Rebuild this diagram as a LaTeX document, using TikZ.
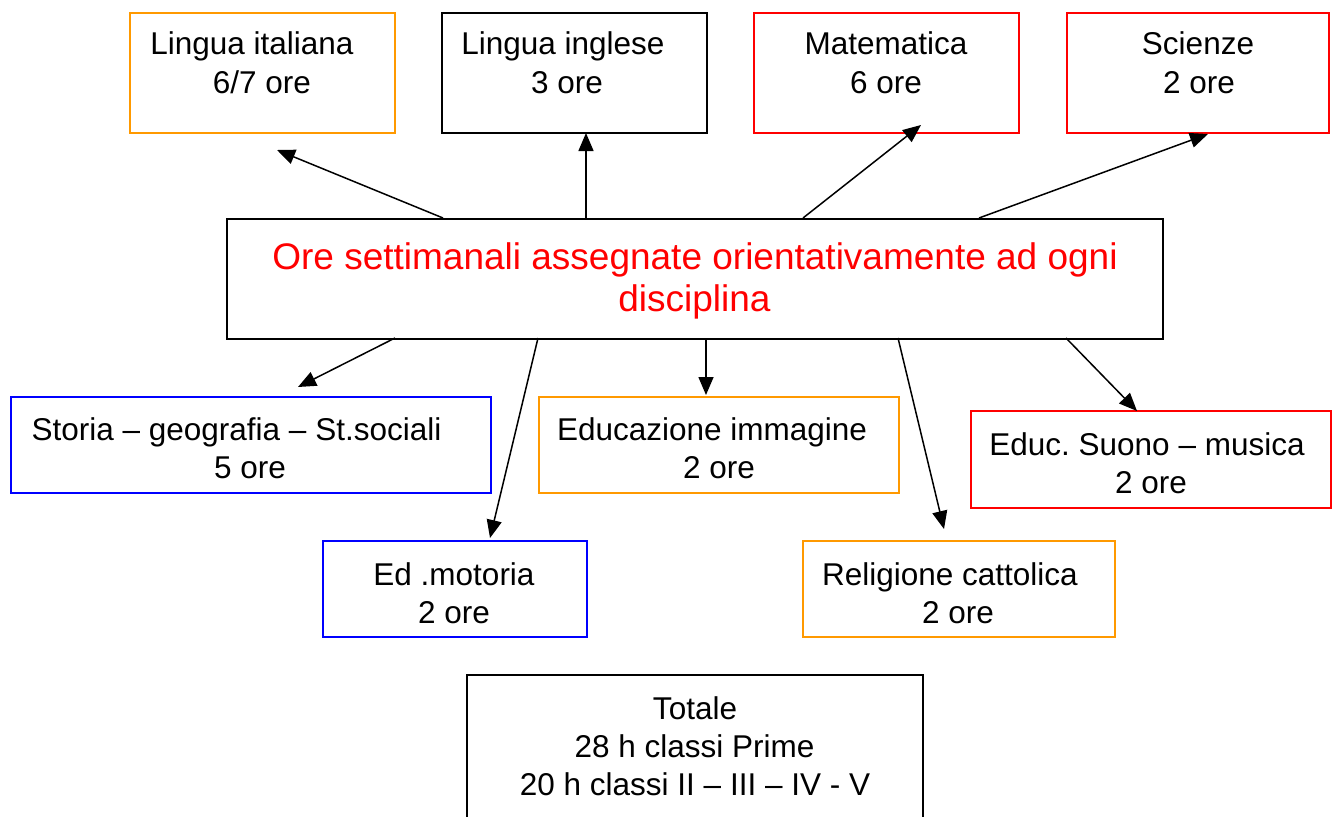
\documentclass[tikz,border=0pt]{standalone}
\usepackage{fontspec}
\setmainfont{Liberation Sans}
\usetikzlibrary{arrows.meta,calc}
\definecolor{wdorange}{RGB}{255,153,0}
\definecolor{wdred}{RGB}{255,0,0}
\definecolor{wdblue}{RGB}{0,0,255}
\frenchspacing
\begin{document}
\begin{tikzpicture}[x=1pt,y=-1pt,
  frame/.style={draw=#1, line width=1.6pt, anchor=north west, inner sep=0pt},
  lbl/.style={anchor=base, inner sep=0pt, font=\fontsize{31.5}{38}\selectfont},
  ttl/.style={anchor=base, inner sep=0pt, text=wdred, font=\fontsize{37}{43}\selectfont},
  conn/.style={line width=1.5pt, -{Triangle[length=18pt,width=15pt]}}]
\useasboundingbox (0,0) rectangle (1332,816);
\clip (0,0) rectangle (1332,816);
\fill[white] (0,0) rectangle (1332,816);
% boxes
\node[frame=wdorange, minimum width=265pt, minimum height=120pt] (li)  at (129,12) {};
\node[frame=black,    minimum width=265pt, minimum height=120pt] (lin) at (441,12) {};
\node[frame=wdred,    minimum width=265pt, minimum height=120pt] (mat) at (753,12) {};
\node[frame=wdred,    minimum width=262pt, minimum height=120pt] (sci) at (1066,12) {};
\node[frame=black,    minimum width=936pt, minimum height=120pt] (c)   at (226,218) {};
\node[frame=wdblue,   minimum width=480pt, minimum height=96pt]  (sto) at (10,396) {};
\node[frame=wdorange, minimum width=360pt, minimum height=96pt]  (edi) at (538,396) {};
\node[frame=wdred,    minimum width=360pt, minimum height=97pt]  (mus) at (970,410) {};
\node[frame=wdblue,   minimum width=264pt, minimum height=96pt]  (mot) at (322,540) {};
\node[frame=wdorange, minimum width=312pt, minimum height=96pt]  (rel) at (802,540) {};
\node[frame=black,    minimum width=456pt, minimum height=170pt] (tot) at (466,674) {};
% texts
\node[lbl] (li1) at (252,55) {Lingua italiana};
\node[lbl] (li2) at (262,93) {6/7 ore};
\node[lbl] (lin1) at (563,55) {Lingua inglese};
\node[lbl] (lin2) at (567,93) {3 ore};
\node[lbl] (mat1) at (886,55) {Matematica};
\node[lbl] (mat2) at (886,93) {6 ore};
\node[lbl] (sci1) at (1198,55) {Scienze};
\node[lbl] (sci2) at (1199,93) {2 ore};
\node[ttl] (c1) at (695,269) {Ore settimanali assegnate orientativamente ad ogni};
\node[ttl] (c2) at (694.5,311) {disciplina};
\node[lbl] (sto1) at (236.5,440) {Storia – geografia – St.sociali};
\node[lbl] (sto2) at (250,478) {5 ore};
\node[lbl] (edi1) at (712,440) {Educazione immagine};
\node[lbl] (edi2) at (719,478) {2 ore};
\node[lbl] (mus1) at (1147,455) {Educ. Suono – musica};
\node[lbl] (mus2) at (1151,493) {2 ore};
\node[lbl] (mot1) at (454,585) {Ed .motoria};
\node[lbl] (mot2) at (454,623) {2 ore};
\node[lbl] (rel1) at (950,585) {Religione cattolica};
\node[lbl] (rel2) at (958,623) {2 ore};
\node[lbl] (tot1) at (695,719) {Totale};
\node[lbl] (tot2) at (694.5,757) {28 h classi Prime};
\node[lbl] (tot3) at (695,795) {20 h classi II – III – IV - V};
% connector end points
\coordinate (s1) at (443,218);  \coordinate (e1) at (277,150);
\coordinate (s2) at (586,218);  \coordinate (e2) at (586,133);
\coordinate (s3) at (803,218);  \coordinate (e3) at (921,125);
\coordinate (s4) at (979,218);  \coordinate (e4) at (1208,134);
\coordinate (s5) at (395,338);  \coordinate (e5) at (298,387);
\coordinate (s6) at (538,338);  \coordinate (e6) at (490,538);
\coordinate (s7) at (706,338);  \coordinate (e7) at (706,395);
\coordinate (s8) at (898,338);  \coordinate (e8) at (944,529);
\coordinate (s9) at (1066,338); \coordinate (e9) at (1137,411);
\foreach \i in {1,...,9} {\draw[conn] (s\i) -- (e\i);}
\end{tikzpicture}
\end{document}
